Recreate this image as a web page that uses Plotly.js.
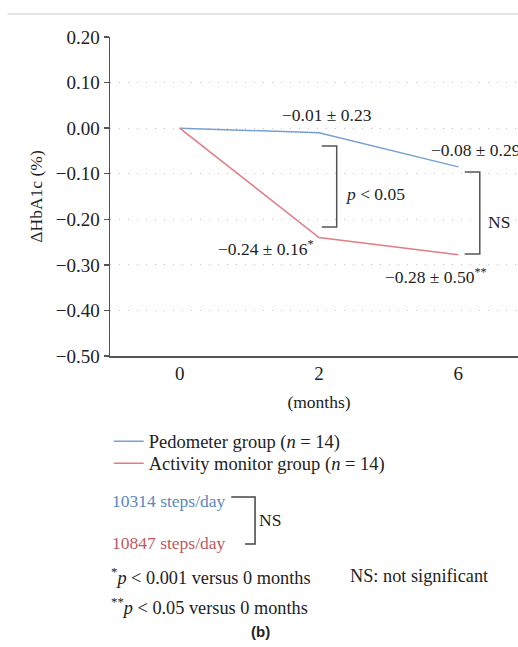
<!DOCTYPE html>
<html>
<head>
<meta charset="utf-8">
<script src="https://cdn.plot.ly/plotly-3.0.1.min.js"></script>
<style>
html,body{margin:0;padding:0;overflow:hidden;background:#fff;}
#chart{width:528px;height:647px;}
</style>
</head>
<body>
<div id="chart"></div>
<script>
// ---- data ----
const months = ['0', '2', '6'];
const pedometerValues = [0.00, -0.01, -0.085];
const activityValues = [0.00, -0.24, -0.278];
const seriesNames = ['Pedometer group (<i>n</i> = 14)', 'Activity monitor group (<i>n</i> = 14)'];
const pointLabels = ['−0.01 ± 0.23', '−0.08 ± 0.29', '−0.24 ± 0.16<sup>*</sup>', '−0.28 ± 0.50<sup>**</sup>'];
const stepsLabels = ['10314 steps/day', '10847 steps/day'];
const yTickVals = [0.2, 0.1, 0, -0.1, -0.2, -0.3, -0.4, -0.5];

const blue = '#76a0d2';
const red = '#e07d84';
const blueText = '#5b88bd';
const redText = '#bb5a5f';
const serif = 'Liberation Serif, Times New Roman, serif';
const ink = '#222';
const FS = 17.5;
const bracket = {color: '#555', width: 1.5};

const traces = [
  {x: months, y: pedometerValues, type: 'scatter', mode: 'lines', name: seriesNames[0],
   line: {color: blue, width: 1.5}, legend: 'legend'},
  {x: months, y: activityValues, type: 'scatter', mode: 'lines', name: seriesNames[1],
   line: {color: red, width: 1.5}, legend: 'legend2'}
];

function ann(text, x, y, xanchor, opts) {
  return Object.assign({text: text, x: x, y: y, xref: 'x', yref: 'y', xanchor: xanchor, yanchor: 'middle',
    showarrow: false, font: {family: serif, size: FS, color: ink}}, opts || {});
}
function pann(text, x, y, xanchor, opts) {
  return Object.assign({text: text, x: x, y: y, xref: 'paper', yref: 'paper', xanchor: xanchor, yanchor: 'middle',
    showarrow: false, font: {family: serif, size: FS, color: ink}}, opts || {});
}

const annotations = [
  ann(pointLabels[0], 1.055, 0.029, 'center'),
  ann(pointLabels[1], 1.79, -0.048, 'left'),
  ann(pointLabels[2], 0.975, -0.263, 'right'),
  ann(pointLabels[3], 1.84, -0.325, 'center'),
  ann('<i>p</i> < 0.05', 1.17, -0.145, 'left'),
  ann('NS', 2.2, -0.206, 'left'),
  pann(stepsLabels[0], 0.0, -0.455, 'left', {font: {family: serif, size: FS, color: blueText}}),
  pann(stepsLabels[1], 0.0, -0.586, 'left', {font: {family: serif, size: FS, color: redText}}),
  pann('NS', 0.352, -0.514, 'left'),
  pann('<sup>*</sup><i>p</i> < 0.001 versus 0 months', -0.003, -0.690, 'left', {font: {family: serif, size: 18.3, color: ink}}),
  pann('NS: not significant', 0.569, -0.690, 'left', {font: {family: serif, size: 18.3, color: ink}}),
  pann('<sup>**</sup><i>p</i> < 0.05 versus 0 months', -0.003, -0.784, 'left', {font: {family: serif, size: 18.3, color: ink}}),
  pann('<b>(b)</b>', 0.359, -0.865, 'center', {font: {family: 'Liberation Sans, Arial, sans-serif', size: 15, color: '#222'}})
];

const shapes = [
  {type: 'path', xref: 'x', yref: 'y', path: 'M 1.02,-0.039 L 1.127,-0.039 L 1.127,-0.217 L 1.02,-0.217', line: bracket},
  {type: 'path', xref: 'x', yref: 'y', path: 'M 2.046,-0.096 L 2.154,-0.096 L 2.154,-0.276 L 2.046,-0.276', line: bracket},
  {type: 'path', xref: 'paper', yref: 'paper', path: 'M 0.29,-0.442 L 0.347,-0.442 L 0.347,-0.589 L 0.323,-0.589', line: {color: '#444', width: 1.5}},
  {type: 'line', xref: 'paper', yref: 'paper', x0: -0.245, x1: 1.05, y0: 1.072, y1: 1.072, line: {color: '#dcdcdc', width: 1.5}}
];

const legendBase = {x: -0.003, xanchor: 'left', yanchor: 'top', orientation: 'v',
  font: {family: serif, size: 18.5, color: ink}, bgcolor: 'rgba(0,0,0,0)', itemwidth: 30};

const layout = {
  width: 528, height: 647,
  margin: {l: 110, r: 0, t: 37, b: 291, pad: 0},
  paper_bgcolor: '#fff', plot_bgcolor: '#fff',
  font: {family: serif, size: 18, color: ink},
  showlegend: true,
  legend: Object.assign({}, legendBase, {y: -0.209}),
  legend2: Object.assign({}, legendBase, {y: -0.278}),
  xaxis: {type: 'category', range: [-0.5, 2.5], showline: true, linecolor: '#555', linewidth: 1.5,
    ticks: '', showgrid: false, zeroline: false, fixedrange: true,
    tickfont: {family: serif, size: 19, color: ink},
    title: {text: '(months)', font: {family: serif, size: FS, color: ink}, standoff: 12}, automargin: false},
  yaxis: {range: [-0.5, 0.2], tickvals: yTickVals, tickformat: '.2f', showline: true, linecolor: '#555', linewidth: 1.5,
    ticks: 'outside', ticklen: 5, tickwidth: 1.5, tickcolor: '#555', zeroline: false,
    showgrid: true, gridcolor: '#c4c4c4', griddash: '1px,8px', gridwidth: 1.2,
    tickfont: {family: serif, size: 19, color: ink},
    title: {text: 'ΔHbA1c (%)', font: {family: serif, size: FS, color: ink}, standoff: 8}, automargin: false},
  annotations: annotations,
  shapes: shapes
};

Plotly.newPlot('chart', traces, layout, {displayModeBar: false, staticPlot: true});
</script>
</body>
</html>
